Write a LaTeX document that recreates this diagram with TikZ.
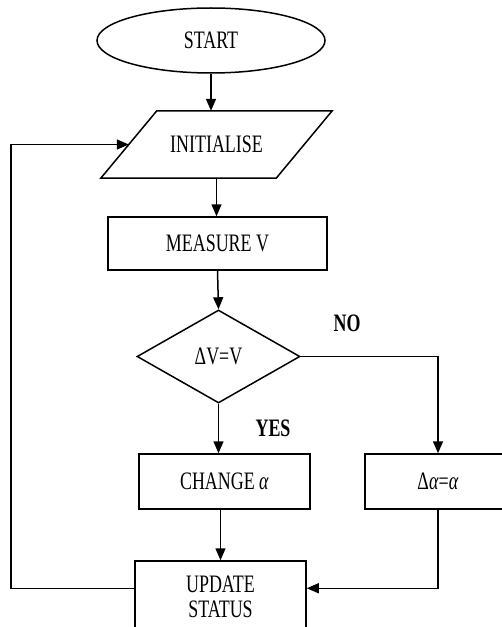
\documentclass[tikz,border=0pt]{standalone}
\usepackage{fontspec}
\setmainfont{Liberation Serif}
\usetikzlibrary{shapes.geometric,arrows.meta,calc}
\newcommand{\tall}[1]{\scalebox{1}[1.4]{#1}}
\begin{document}
\begin{tikzpicture}[x=1bp,y=-1bp,
  every node/.style={font=\fontsize{18}{18}\selectfont, inner sep=0pt},
  conn/.style={line width=1.5bp},
  box/.style={draw, rectangle, conn},
  arr/.style={conn,-{Triangle[length=12bp,width=10bp]}},
  lbl/.style={font=\fontsize{18}{18}\selectfont\bfseries}]
\useasboundingbox (0,0) rectangle (502,627);
\clip (0,0) rectangle (502,627);

\node[draw, ellipse, conn, minimum width=228bp, minimum height=65bp] (start) at (211,40.5) {\tall{START}};
\node[minimum width=175bp, minimum height=67bp] (init) at (216.5,144.5) {\tall{INITIALISE}};
\draw[conn] ([xshift=-28bp]init.south west) -- ([xshift=28bp]init.north west) -- ([xshift=28bp]init.north east) -- ([xshift=-28bp]init.south east) -- cycle;
\node[box, minimum width=219bp, minimum height=53bp] (measure) at (217.5,243.5) {\tall{MEASURE V}};
\node[draw, diamond, conn, minimum width=163bp, minimum height=93bp] (dec) at (218.5,356.5) {\tall{ΔV=V}};
\node[box, minimum width=171bp, minimum height=55bp] (change) at (224.5,481.5) {\tall{CHANGE \textit{α}}};
\node[box, minimum width=146bp, minimum height=55bp] (dalpha) at (438,481.5) {\tall{Δ\textit{α}=\textit{α}}};
\node[box, minimum width=171bp, minimum height=78bp] (update) at (220.5,600) {\tall{\begin{tabular}{@{}c@{}}UPDATE\\STATUS\end{tabular}}};

\node[lbl] (no) at (347,323.5) {\tall{NO}};
\node[lbl] (yes) at (273,428) {\tall{YES}};

\draw[arr] (start.south) -- (start.south |- init.north);
\draw[arr] (init.south) -- (init.south |- measure.north);
\draw[arr] (measure.south) -- (dec.north);
\draw[arr] (dec.south) -- (dec.south |- change.north);
\draw[arr] (dec.east) -| (dalpha.north);
\draw[arr] (update.north |- change.south) -- (update.north);
\coordinate (uin) at ($(update.north east)+(0,28)$);
\coordinate (uout) at ($(update.north west)+(0,28)$);
\draw[arr] (dalpha.south) |- (uin);
\draw[arr] (uout) -- ++(-123,0) |- (init.west);
\end{tikzpicture}
\end{document}
